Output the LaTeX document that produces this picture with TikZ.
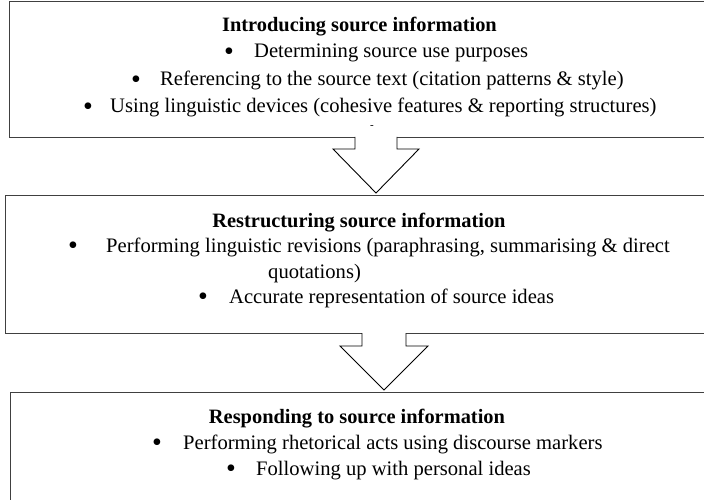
\documentclass[tikz,border=0pt]{standalone}
\usepackage{fontspec}
\setmainfont{Liberation Serif}
\usetikzlibrary{calc}
\begin{document}
\begin{tikzpicture}[x=1pt,y=-1pt,
  panel/.style={draw=black!75, line width=1pt, inner sep=0pt, anchor=north west},
  blockarrow/.style={draw=black, line width=0.9pt, fill=white, line join=miter},
  ttl/.style={font=\fontsize{20.4}{24}\selectfont\bfseries, anchor=base, inner sep=0pt},
  txt/.style={font=\fontsize{20.6}{24}\selectfont, anchor=base west, inner sep=0pt},
  bul/.style={font=\fontsize{28}{28}\selectfont, anchor=base, inner sep=0pt, yshift=-2.5pt}]
\useasboundingbox (0,0) rectangle (704,500);
\clip (0,0) rectangle (704,500);
\fill[white] (0,0) rectangle (704,500);

% boxes
\node[panel, minimum width=720pt, minimum height=136pt] (box1) at (9,1) {};
\node[panel, minimum width=720pt, minimum height=138pt] (box2) at (5,195) {};
\node[panel, minimum width=720pt, minimum height=160pt] (box3) at (10,392) {};

% block arrows
\coordinate (a1) at (376,137);
\coordinate (a2) at (384,333);
\draw[blockarrow] ($(a1)+(-21,0)$) -- ++(0,12) -- ++(-22,0) -- ++(43,44) -- ++(43,-44) -- ++(-22,0) -- ++(0,-12);
\draw[blockarrow] ($(a2)+(-22,0)$) -- ++(0,13) -- ++(-22,0) -- ++(44,44) -- ++(44,-44) -- ++(-22,0) -- ++(0,-13);

% box 1 text
\node[ttl] (t1) at (359.5,32) {Introducing source information};
\node[bul] (b11) at (229,58) {•};
\node[txt] (l11) at (254,58) {Determining source use purposes};
\node[bul] (b12) at (136,86) {•};
\node[txt] (l12) at (160,86) {Referencing to the source text (citation patterns \& style)};
\node[bul] (b13) at (88,113) {•};
\node[txt] (l13) at (110,113) {Using linguistic devices (cohesive features \& reporting structures)};
\node[inner sep=0pt, font=\fontsize{11}{11}\selectfont] (dash) at (372,127) {-};

% box 2 text
\node[ttl] (t2) at (359,227) {Restructuring source information};
\node[bul] (b21) at (73,252) {•};
\node[txt] (l21) at (106,252) {Performing linguistic revisions (paraphrasing, summarising \& direct};
\node[txt] (l22) at (268,278) {quotations)};
\node[bul] (b23) at (203,303) {•};
\node[txt] (l23) at (229,303) {Accurate representation of source ideas};

% box 3 text
\node[ttl] (t3) at (357,423) {Responding to source information};
\node[bul] (b31) at (157,449) {•};
\node[txt] (l31) at (183,449) {Performing rhetorical acts using discourse markers};
\node[bul] (b32) at (231,475) {•};
\node[txt] (l32) at (256,475) {Following up with personal ideas};
\end{tikzpicture}
\end{document}
